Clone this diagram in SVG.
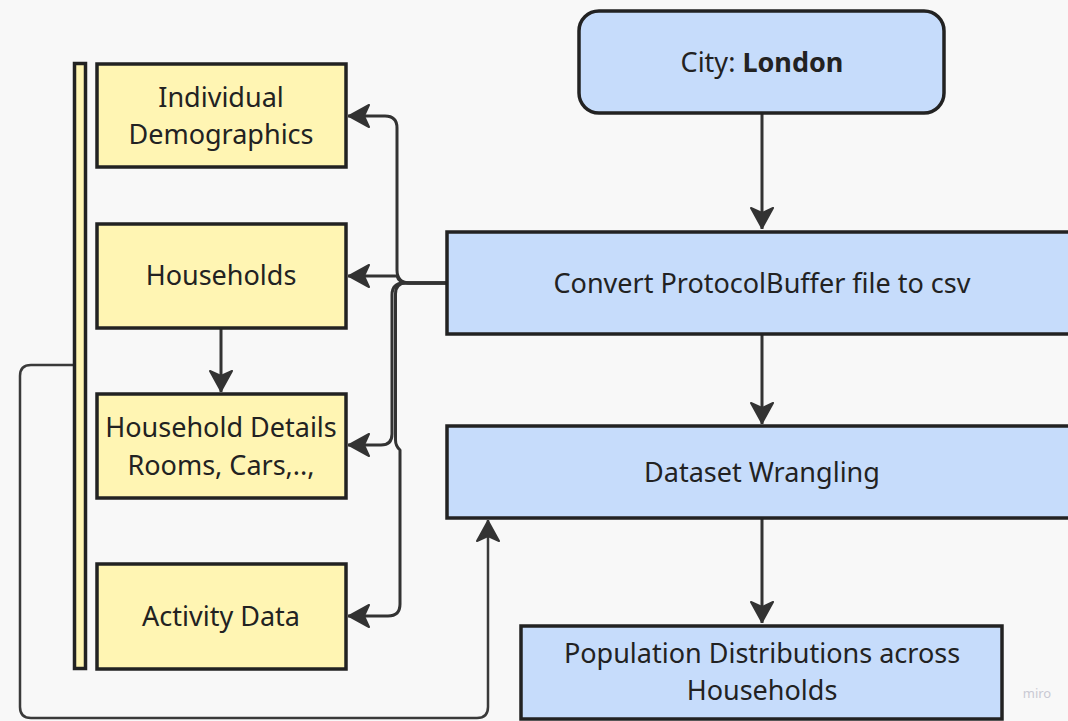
<svg xmlns="http://www.w3.org/2000/svg" width="1068" height="721" viewBox="0 0 1068 721">
  <defs>
    <marker id="arrow" viewBox="-24 -14 26 28" refX="0" refY="0" markerWidth="26" markerHeight="28" markerUnits="userSpaceOnUse" orient="auto">
      <path d="M-1,0 L-21,-11 L-16,0 L-21,11 Z" fill="#333" stroke="#333" stroke-width="2" stroke-linejoin="round"/>
    </marker>
    <style>
      .bg { fill: #f8f8f8; }
      .yellow { fill: #fff5b3; stroke: #222; stroke-width: 3.5; }
      .blue { fill: #c6dcfb; stroke: #222; stroke-width: 3.5; }
      .label { font-family: "Noto Sans", "Open Sans", sans-serif; font-size: 27px; fill: #222; text-anchor: middle; }
      .conn { fill: none; stroke: #333; stroke-width: 3; stroke-linejoin: round; }
      .thin { fill: none; stroke: #3a3a3a; stroke-width: 2.5; stroke-linejoin: round; }
      .mark { font-family: "Noto Sans", sans-serif; font-size: 13px; fill: #c9c9d3; text-anchor: middle; }
    </style>
  </defs>

  <rect class="bg" x="0" y="0" width="1068" height="721"/>

  <!-- connectors -->
  <g id="connectors">
    <!-- city to converter -->
    <path class="conn" d="M762,114 V229" marker-end="url(#arrow)"/>
    <!-- converter to wrangling -->
    <path class="conn" d="M762,334 V424" marker-end="url(#arrow)"/>
    <!-- wrangling to distributions -->
    <path class="conn" d="M762,518 V623" marker-end="url(#arrow)"/>
    <!-- households to household details -->
    <path class="conn" d="M221,328 V392" marker-end="url(#arrow)"/>
    <!-- converter to individual demographics -->
    <path class="conn" d="M446,283 H410 Q397,283 397,270 V128 Q397,116 385,116 H348" marker-end="url(#arrow)"/>
    <!-- converter to households -->
    <path class="conn" d="M446,283 H408 Q399,283 397,276 H348" marker-end="url(#arrow)"/>
    <!-- converter to household details -->
    <path class="conn" d="M446,283 H404 Q392,283 392,295 V434 Q392,445 381,445 H348" marker-end="url(#arrow)"/>
    <!-- converter to activity data -->
    <path class="conn" d="M446,283 H406 Q395.5,283 395.5,294 V440 Q395.5,446 400,450 V604 Q400,616 388,616 H348" marker-end="url(#arrow)"/>
    <!-- outputs fed back into wrangling -->
    <path class="thin" d="M73,365 H31 Q20,365 20,376 V707 Q20,718 31,718 H477 Q488,718 488,707 V520" marker-end="url(#arrow)"/>
  </g>

  <!-- grouping bar for the extracted tables -->
  <g id="table-bar">
    <rect class="yellow" x="74.5" y="63.5" width="11" height="605" stroke-width="3"/>
  </g>

  <g id="individual-demographics">
    <rect class="yellow" x="97" y="64" width="249" height="103"/>
    <text class="label" x="221" y="107">Individual</text>
    <text class="label" x="221" y="144">Demographics</text>
  </g>

  <g id="households">
    <rect class="yellow" x="97" y="224" width="249" height="104"/>
    <text class="label" x="221" y="285">Households</text>
  </g>

  <g id="household-details">
    <rect class="yellow" x="97" y="394" width="249" height="104"/>
    <text class="label" x="221" y="437">Household Details</text>
    <text class="label" x="221" y="475">Rooms, Cars,..,</text>
  </g>

  <g id="activity-data">
    <rect class="yellow" x="97" y="564" width="249" height="105"/>
    <text class="label" x="221" y="626">Activity Data</text>
  </g>

  <g id="city">
    <rect class="blue" x="579" y="11" width="365" height="102" rx="20" ry="20"/>
    <text class="label" x="762" y="72">City: <tspan font-weight="bold">London</tspan></text>
  </g>

  <g id="convert">
    <rect class="blue" x="447" y="232" width="640" height="102"/>
    <text class="label" x="762" y="293">Convert ProtocolBuffer file to csv</text>
  </g>

  <g id="wrangling">
    <rect class="blue" x="447" y="426" width="640" height="92"/>
    <text class="label" x="762" y="482">Dataset Wrangling</text>
  </g>

  <g id="distributions">
    <rect class="blue" x="521" y="626" width="481" height="93"/>
    <text class="label" x="762" y="663">Population Distributions across</text>
    <text class="label" x="762" y="700">Households</text>
  </g>

  <text class="mark" x="1037" y="698">miro</text>
</svg>
